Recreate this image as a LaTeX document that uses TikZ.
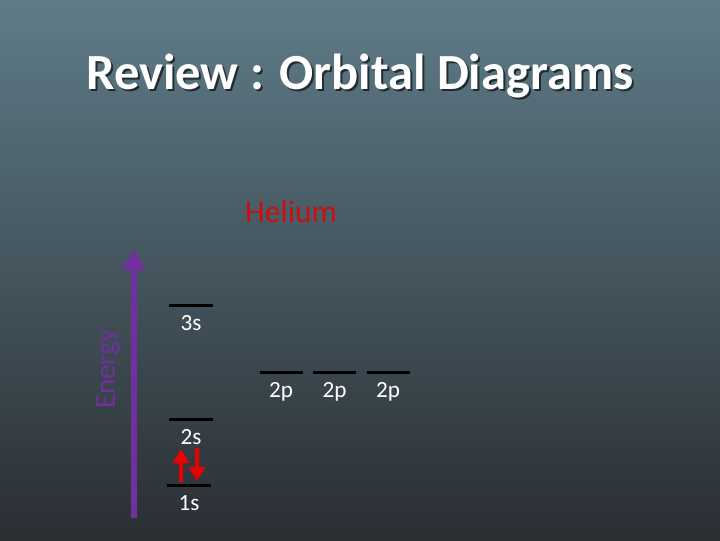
\documentclass[tikz,border=0pt]{standalone}
\usepackage{fontspec}
\setmainfont{Carlito}
\usetikzlibrary{positioning,arrows.meta}

\definecolor{bgtop}{RGB}{94,124,136}
\definecolor{bgmid}{RGB}{62,76,83}
\definecolor{bgbot}{RGB}{42,46,51}
\definecolor{energy}{RGB}{112,48,160}
\definecolor{heliumred}{RGB}{200,16,20}
\definecolor{spinred}{RGB}{235,0,0}

\begin{document}
\begin{tikzpicture}[x=0.025cm,y=-0.025cm,
  level/.style={fill=black, inner sep=0pt, minimum width=1.075cm, minimum height=0.075cm},
  orb/.style={text=white, inner sep=0pt, font=\fontsize{16.5}{19}\selectfont},
  spin/.style={spinred, line width=0.1cm, -{Triangle[width=0.4cm, length=0.35cm]}}]

  % background
  \shade[top color=bgtop, middle color=bgmid, bottom color=bgbot] (0,0) rectangle (720,540);
  \useasboundingbox (0,0) rectangle (720,540);

  % title
  \node[black, opacity=0.6, font=\fontsize{36}{42}\bfseries\selectfont] at (362,78) {Review : Orbital Diagrams};
  \node (title) [white, font=\fontsize{36}{42}\bfseries\selectfont] at (360,76) {Review : Orbital Diagrams};
  \node (helium) [heliumred, font=\fontsize{22.5}{26}\selectfont] at (291,212) {Helium};

  % energy axis
  \coordinate (ebot) at (134,518);
  \coordinate (etop) at (134,250);
  \draw[energy, line width=0.13cm, -{Triangle[width=0.58cm, length=0.5cm]}] (ebot) -- (etop);
  \node (elabel) [energy, rotate=90, font=\fontsize{20.5}{24}\selectfont] at (108,369) {Energy};

  % s levels
  \node (s3) [level] at (191,305) {};
  \node (s2) [level] at (191,419) {};
  \node (s1) [level] at (189,485) {};
  \node [orb, below=6pt of s3] {3s};
  \node [orb, below=6pt of s2] {2s};
  \node [orb, below=6pt of s1] {1s};

  % p levels
  \node (p1) [level] at (281,372) {};
  \node (p2) [level, right=0.25cm of p1] {};
  \node (p3) [level, right=0.25cm of p2] {};
  \node [orb, below=6pt of p1] {2p};
  \node [orb, below=6pt of p2] {2p};
  \node [orb, below=6pt of p3] {2p};

  % electrons in 1s
  \coordinate (upfrom) at (181,482);
  \coordinate (upto) at (181,449);
  \coordinate (dnfrom) at (197,448);
  \coordinate (dnto) at (197,481);
  \draw[spin] (upfrom) -- (upto);
  \draw[spin] (dnfrom) -- (dnto);

\end{tikzpicture}
\end{document}
